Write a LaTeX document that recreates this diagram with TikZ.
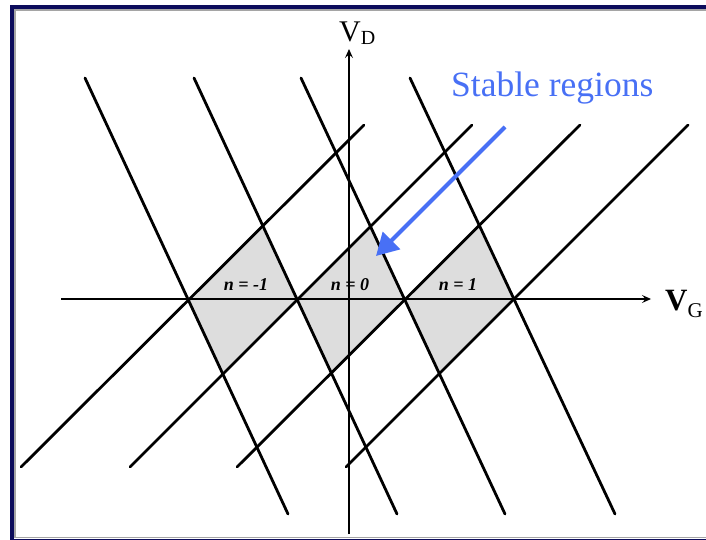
\documentclass[tikz,border=0pt]{standalone}
\usepackage{fontspec}
\setmainfont{Liberation Serif}
\usetikzlibrary{arrows.meta,calc}
\definecolor{navyframe}{RGB}{12,12,92}
\definecolor{framegray}{RGB}{165,165,165}
\definecolor{regionfill}{RGB}{221,221,221}
\definecolor{stableblue}{RGB}{72,112,245}
\begin{document}
\begin{tikzpicture}[x=1pt,y=-1pt,
  biasline/.style={line width=2.8pt,black,line cap=round},
  axisline/.style={line width=1.3pt,black,-{Stealth[length=9pt,width=8pt,inset=3.5pt]}},
  region/.style={fill=regionfill},
  nlabel/.style={font=\fontsize{18}{18}\selectfont\bfseries\itshape,inner sep=0pt},
  axlabel/.style={inner sep=0pt,anchor=base west}]
\useasboundingbox (0,0) rectangle (706,540);
\clip (0,0) rectangle (706,540);
% frame
\draw[navyframe,line width=4pt] (12,7) rectangle (724,541);
\draw[framegray,line width=1.3pt] (15,10) rectangle (724,537.5);
% line end points
\coordinate (s1a) at (85,78);  \coordinate (s1b) at (288,514);
\coordinate (s2a) at (194,78); \coordinate (s2b) at (397,514);
\coordinate (s3a) at (301,78); \coordinate (s3b) at (505,514);
\coordinate (s4a) at (410,78); \coordinate (s4b) at (615,514);
\coordinate (p1a) at (21,467);  \coordinate (p1b) at (364,125);
\coordinate (p2a) at (130,467); \coordinate (p2b) at (472,125);
\coordinate (p3a) at (237,467); \coordinate (p3b) at (580,125);
\coordinate (p4a) at (346,467); \coordinate (p4b) at (688,125);
% diamonds
\foreach \i/\j in {1/2,2/3,3/4}{
  \fill[region]
    (intersection of s\i a--s\i b and p\i a--p\i b) --
    (intersection of p\i a--p\i b and s\j a--s\j b) --
    (intersection of s\j a--s\j b and p\j a--p\j b) --
    (intersection of p\j a--p\j b and s\i a--s\i b) -- cycle;
}
% axes
\coordinate (hx0) at (61,299); \coordinate (hx1) at (651,299);
\coordinate (vy0) at (349,534); \coordinate (vy1) at (349,49);
\draw[axisline] (hx0) -- (hx1);
\draw[axisline] (vy0) -- (vy1);
% bias lines
\foreach \k in {1,2,3,4}{
  \draw[biasline] (s\k a) -- (s\k b);
  \draw[biasline] (p\k a) -- (p\k b);
}
% region labels
\node[nlabel] (nm1) at (246,285) {n = -1};
\node[nlabel] (n0) at (350,285) {n = 0};
\node[nlabel] (n1) at (458,285) {n = 1};
% axis labels
\node[axlabel] (vd) at (339,42) {\fontsize{30}{30}\selectfont V\raisebox{-3pt}{\fontsize{20}{20}\selectfont D}};
\node[axlabel] (vg) at (665,310) {\fontsize{31}{31}\selectfont\bfseries V\raisebox{-7pt}{\fontsize{21}{21}\selectfont\mdseries G}};
% stable regions
\node[inner sep=0pt,anchor=base west,text=stableblue,font=\fontsize{35.5}{35.5}\selectfont] (sr) at (451,97) {Stable regions};
\coordinate (arrs) at (505,127);
\coordinate (arre) at (376,256);
\draw[stableblue,line width=4pt,-{Triangle[length=22pt,width=24pt]}] (arrs) -- (arre);
\end{tikzpicture}
\end{document}
